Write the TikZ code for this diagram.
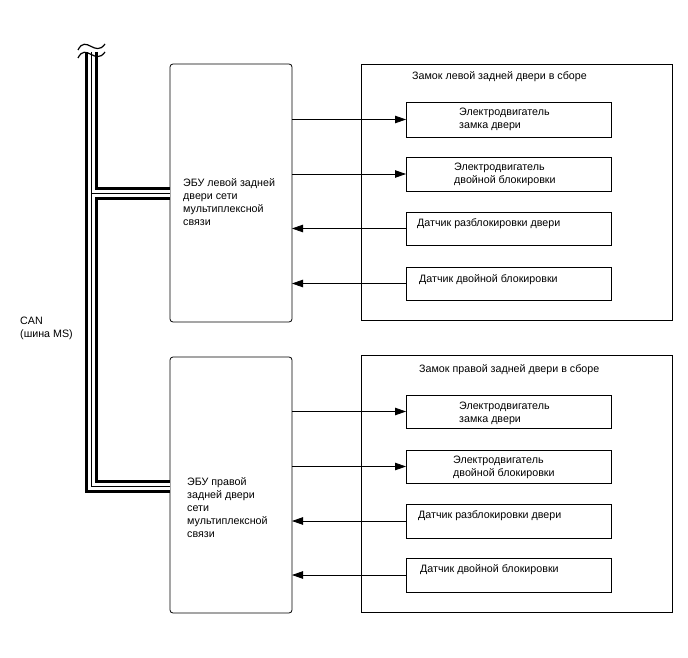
\documentclass[tikz,border=0pt]{standalone}
\usepackage{fontspec}
\setmainfont{Liberation Sans}
\usetikzlibrary{arrows.meta}
\begin{document}
\begin{tikzpicture}[x=1pt,y=-1pt,
  ecu/.style={draw, line width=0.8pt, rounded corners=3pt, outer sep=0pt, inner sep=0pt, anchor=north west},
  asm/.style={draw, line width=0.8pt, outer sep=0pt, inner sep=0pt, anchor=north west},
  part/.style={draw, line width=0.9pt, outer sep=0pt, inner sep=0pt, anchor=north west},
  lbl/.style={anchor=base west, inner sep=0pt, font=\fontsize{10.7}{13}\selectfont},
  arr/.style={line width=0.8pt, -{Triangle[length=11pt,width=7.5pt]}},
  wave/.style={line width=1.2pt}]
\useasboundingbox (0,0) rectangle (688,658);
\fill[white] (0,0) rectangle (688,658);

% ECU boxes
\node[ecu, minimum width=122, minimum height=258] (ecuL) at (170,64) {};
\node[ecu, minimum width=122, minimum height=256] (ecuR) at (170,357) {};

% assembly boxes
\node[asm, minimum width=311, minimum height=256] (asmL) at (361,64) {};
\node[asm, minimum width=311, minimum height=257] (asmR) at (361,355) {};

% parts, left door
\node[part, minimum width=205, minimum height=35] (pL1) at (406,102) {};
\node[part, minimum width=205, minimum height=34] (pL2) at (406,157) {};
\node[part, minimum width=205, minimum height=33] (pL3) at (406,212) {};
\node[part, minimum width=205, minimum height=33] (pL4) at (406,267) {};
% parts, right door
\node[part, minimum width=205, minimum height=33] (pR1) at (406,395) {};
\node[part, minimum width=205, minimum height=33] (pR2) at (406,450) {};
\node[part, minimum width=205, minimum height=34] (pR3) at (406,504) {};
\node[part, minimum width=205, minimum height=34] (pR4) at (406,558) {};

% texts left
\node[lbl] (tAL) at (412,80) {Замок левой задней двери в сборе};
\node[lbl] (tL1a) at (459,116) {Электродвигатель};
\node[lbl] (tL1b) at (459,129) {замка двери};
\node[lbl] (tL2a) at (454,170) {Электродвигатель};
\node[lbl] (tL2b) at (454,183) {двойной блокировки};
\node[lbl] (tL3) at (417,226) {Датчик разблокировки двери};
\node[lbl] (tL4) at (419,282) {Датчик двойной блокировки};
\node[lbl] (tEL1) at (183,186) {ЭБУ левой задней};
\node[lbl] (tEL2) at (183,199) {двери сети};
\node[lbl] (tEL3) at (183,212) {мультиплексной};
\node[lbl] (tEL4) at (183,225) {связи};

% texts right
\node[lbl] (tAR) at (419,372) {Замок правой задней двери в сборе};
\node[lbl] (tR1a) at (459,409) {Электродвигатель};
\node[lbl] (tR1b) at (459,422) {замка двери};
\node[lbl] (tR2a) at (453,463) {Электродвигатель};
\node[lbl] (tR2b) at (453,476) {двойной блокировки};
\node[lbl] (tR3) at (418,518) {Датчик разблокировки двери};
\node[lbl] (tR4) at (420,572) {Датчик двойной блокировки};
\node[lbl] (tER1) at (187,485) {ЭБУ правой};
\node[lbl] (tER2) at (187,498) {задней двери};
\node[lbl] (tER3) at (187,511) {сети};
\node[lbl] (tER4) at (187,524) {мультиплексной};
\node[lbl] (tER5) at (187,537) {связи};

% CAN label
\node[lbl] (can1) at (20,324) {CAN};
\node[lbl] (can2) at (20,337) {(шина MS)};

% arrows
\draw[arr] (ecuL.east |- pL1.west) -- (pL1.west);
\draw[arr] (ecuL.east |- pL2.west) -- (pL2.west);
\draw[arr] (pL3.west) -- (ecuL.east |- pL3.west);
\draw[arr] (pL4.west) -- (ecuL.east |- pL4.west);
\draw[arr] (ecuR.east |- pR1.west) -- (pR1.west);
\draw[arr] (ecuR.east |- pR2.west) -- (pR2.west);
\draw[arr] (pR3.west) -- (ecuR.east |- pR3.west);
\draw[arr] (pR4.west) -- (ecuR.east |- pR4.west);

% CAN bus cable
\coordinate (busTop) at (91,52);
\coordinate (busJ) at (91,193);
\coordinate (busCorner) at (91,486);
\foreach \w/\c in {13/black, 7/white, 0.8/black} {
  \draw[line width=\w pt, \c, line join=miter] (busTop) -- (busCorner) -- (ecuR.west |- busCorner);
  \draw[line width=\w pt, \c] (busJ) -- (ecuL.west |- busJ);
}
% break symbol
\coordinate (w1a) at (78,50);
\coordinate (w1b) at (105,44);
\coordinate (w2a) at (78,58);
\coordinate (w2b) at (105,52);
\draw[wave] (w1a) .. controls (86,34) and (95,58) .. (w1b);
\draw[wave] (w2a) .. controls (86,42) and (95,66) .. (w2b);
\end{tikzpicture}
\end{document}
